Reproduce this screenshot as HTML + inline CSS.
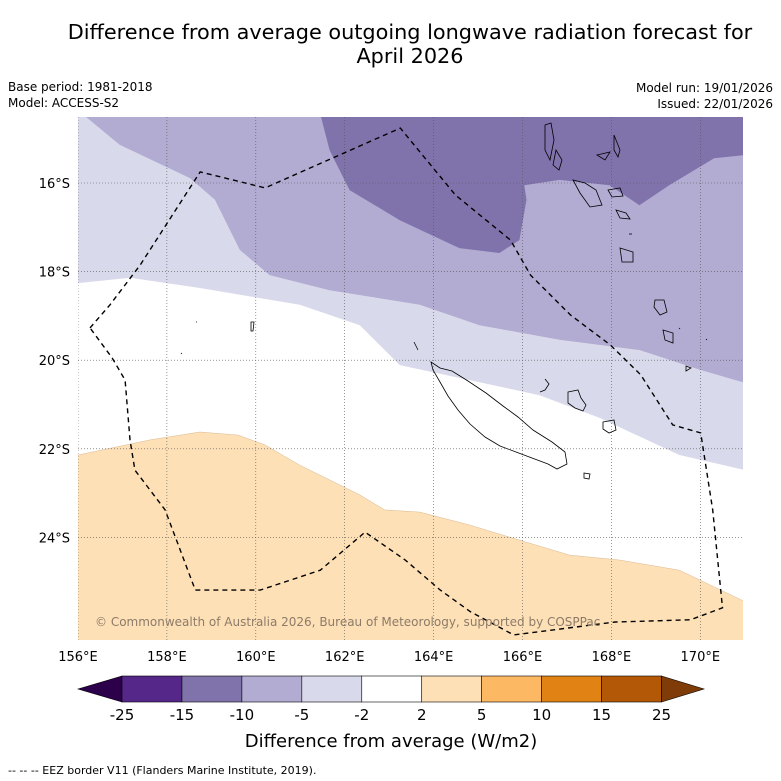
<!DOCTYPE html>
<html><head><meta charset="utf-8"><style>
html,body{margin:0;background:#fff;overflow:hidden;font-family:"Liberation Sans","DejaVu Sans",sans-serif}
svg{display:block}
svg text{font-family:"DejaVu Sans","Liberation Sans",sans-serif}
</style></head><body>
<svg id="c" width="781" height="781" viewBox="0 0 781 781" xmlns="http://www.w3.org/2000/svg">
<rect width="781" height="781" fill="#fff"/>
<text x="410" y="39" font-size="20.8" text-anchor="middle">Difference from average outgoing longwave radiation forecast for</text>
<text x="410" y="63" font-size="20.8" text-anchor="middle">April 2026</text>
<text x="8" y="91" font-size="12">Base period: 1981-2018</text>
<text x="8" y="107" font-size="12">Model: ACCESS-S2</text>
<text x="773" y="92" font-size="12" text-anchor="end">Model run: 19/01/2026</text>
<text x="773" y="108" font-size="12" text-anchor="end">Issued: 22/01/2026</text>
<defs><clipPath id="mc"><rect x="78" y="117" width="665" height="523"/></clipPath></defs>
<g id="map" clip-path="url(#mc)"></g>
<g id="axes"></g>
<g id="cbar"></g>
<text x="391" y="747" font-size="18" text-anchor="middle">Difference from average (W/m2)</text>
<text x="8" y="774" font-size="11">--  --  -- EEZ border V11 (Flanders Marine Institute, 2019).</text>
</svg>
<script>
const lonTicks=[156,158,160,162,164,166,168,170];
const latTicks=[16,18,20,22,24];
const cbLevels=[-25,-15,-10,-5,-2,2,5,10,15,25];
const cbColors=["#542788","#8073ac","#b2abd2","#d8daeb","#ffffff","#fee0b6","#fdb863","#e08214","#b35806"];
const lightContour=[[156,18.26],[157.17,18.14],[158.74,18.37],[160.99,18.75],[162.34,19.21],[163.24,20.11],[164.81,20.45],[166.38,20.79],[167.73,21.3],[169.53,22.14],[171,22.48]];
const mediumContour=[[156.05,14.4],[156.94,15.14],[158.52,15.89],[159.08,16.38],[159.64,17.51],[160.31,18.08],[161.66,18.42],[163.69,18.75],[165.03,19.21],[166.83,19.54],[168.63,19.77],[170,20.22],[171,20.51]];
const darkContour=[[161.44,14.4],[161.66,15.26],[162.11,16.16],[163.24,16.84],[164.58,17.47],[165.48,17.58],[165.93,17.29],[166.09,16.38],[166.04,16.05],[166.83,15.93],[167.96,16.05],[168.63,16.5],[169.3,16.05],[170.31,15.44],[171,15.37]];
const orangeContour=[[156,22.14],[157.62,21.8],[158.74,21.62],[159.6,21.69],[160.2,21.91],[160.99,22.37],[162.34,23.04],[162.9,23.38],[163.69,23.43],[164.81,23.72],[165.93,24.06],[167.06,24.4],[168.18,24.51],[169.53,24.74],[171,25.45]];
const eez=[[156.27,19.27],[156.72,18.75],[157.4,17.85],[158.75,15.75],[160.21,16.11],[163.25,14.76],[164.49,16.27],[165.73,17.29],[166.18,18.08],[167.08,18.98],[167.98,19.66],[168.66,20.33],[169.38,21.46],[170.01,21.64],[170.28,23.38],[170.5,25.59],[169.78,25.86],[168.09,25.91],[165.8,26.2],[164.83,25.68],[164.15,25.19],[163.36,24.51],[162.46,23.88],[161.45,24.74],[160.1,25.19],[158.64,25.19],[157.96,23.38],[157.28,22.48],[157.17,21.8],[157.06,20.45],[156.77,19.95],[156.27,19.27]];
const X=lon=>78+(lon-156)*44.45;
const Y=lat=>183+(lat-16)*44.3;
const NS="http://www.w3.org/2000/svg";
function mk(tag,attrs,parent){const e=document.createElementNS(NS,tag);for(const k in attrs)e.setAttribute(k,attrs[k]);parent.appendChild(e);return e;}
const pts=a=>a.map(p=>X(p[0]).toFixed(1)+","+Y(p[1]).toFixed(1)).join(" ");
const map=document.getElementById('map');
let p;
p=mk('polygon',{points:pts([[156,14]].concat(lightContour,[[171.5,14]])),fill:"#d8daeb"},map);


p=mk('polygon',{points:pts([[156.05,14]].concat(mediumContour,[[171.5,14]])),fill:"#b2abd2"},map);


p=mk('polygon',{points:pts([[161.44,14]].concat(darkContour,[[171.5,14]])),fill:"#8073ac"},map);


p=mk('polygon',{points:pts(orangeContour.concat([[171.5,27],[155.5,27]])),fill:"#fee0b6",stroke:"#d9b890","stroke-width":"0.5"},map);


lonTicks.forEach(l=>{const g=mk('line',{x1:X(l),x2:X(l),y1:117,y2:640,stroke:"#555","stroke-width":"0.6","stroke-dasharray":"1,2"},map);

});
latTicks.forEach(l=>{const g=mk('line',{x1:78,x2:743,y1:Y(l),y2:Y(l),stroke:"#555","stroke-width":"0.6","stroke-dasharray":"1,2"},map);

});
const isl=mk('g',{fill:"none",stroke:"#000","stroke-width":"0.8"},map);


["M431,362 L440,368 L452,371 L468,381 L486,393 L503,406 L518,417 L533,430 L552,442 L565,452 L567,464 L557,469 L548,464 L532,458 L516,452 L500,446 L485,437 L470,424 L458,410 L448,396 L440,382 L433,370 Z",
"M414,342 L418,350","M545,379 L549,384 L545,390 L540,392",
"M568,392 L578,390 L581,398 L586,405 L583,411 L575,408 L568,403 Z","M603,422 L614,420 L616,430 L609,433 L603,429 Z","M584,473 L590,474 L589,479 L584,478 Z",
"M545,125 L551,123 L554,140 L550,160 L545,150 Z","M556,150 L562,160 L559,170 L553,165 Z","M614,135 L620,150 L618,157 L614,150 Z","M597,155 L610,152 L605,160 Z",
"M573,180 L585,183 L596,190 L602,205 L590,207 L580,193 Z","M608,190 L620,188 L623,196 L612,197 Z","M616,210 L626,213 L630,219 L620,218 Z","M620,248 L633,252 L633,262 L622,262 Z",
"M655,300 L664,300 L667,312 L660,315 L654,307 Z","M663,330 L673,333 L673,343 L665,340 Z","M686,366 L691,368 L686,371 Z","M251,322 L254,322 L253,331 L251,331 Z","M629,234 L632,234","M181,353 L182,354","M196,322 L197,322","M706,339 L707,340","M679,328 L680,329"
].forEach(d=>{const e=mk('path',{d:d},isl);

});
p=mk('polyline',{points:pts(eez),fill:"none",stroke:"#000","stroke-width":"1.4","stroke-dasharray":"5,4"},map);


const ct=mk('text',{x:95,y:626,"font-size":"12",fill:"#8c7b69"},map);
ct.textContent="© Commonwealth of Australia 2026, Bureau of Meteorology, supported by COSPPac";


const ax=document.getElementById('axes');
lonTicks.forEach(l=>{const t=mk('text',{x:X(l),y:661,"font-size":"13","text-anchor":"middle"},ax);t.textContent=l+"°E";

});
latTicks.forEach(l=>{const t=mk('text',{x:70,y:Y(l)+5,"font-size":"13","text-anchor":"end"},ax);t.textContent=l+"°S";

});
const cb=document.getElementById('cbar');
const cx0=122,cw=539.5/9,cy=676,ch=26;
const tl=mk('polygon',{points:`78,${cy+ch/2} ${cx0},${cy} ${cx0},${cy+ch}`,fill:"#2d004b",stroke:"#000","stroke-width":"0.6"},cb);


cbColors.forEach((c,i)=>{const r=mk('rect',{x:cx0+i*cw,y:cy,width:cw,height:ch,fill:c,stroke:"#000","stroke-width":"0.6"},cb);

});
const tr=mk('polygon',{points:`${cx0+9*cw},${cy} 704,${cy+ch/2} ${cx0+9*cw},${cy+ch}`,fill:"#7f3b08",stroke:"#000","stroke-width":"0.6"},cb);


cbLevels.forEach((v,i)=>{const t=mk('text',{x:cx0+i*cw,y:720,"font-size":"15","text-anchor":"middle"},cb);t.textContent=v;

});
</script>
</body></html>
